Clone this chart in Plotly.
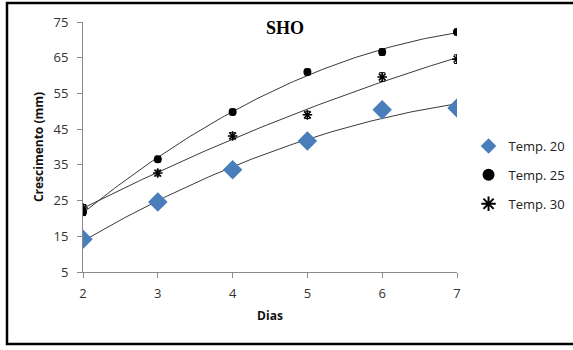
import numpy as np
import plotly.graph_objects as go

# Growth (mm) per day at three temperatures
dias = [2, 3, 4, 5, 6, 7]
temp20 = [14.2, 24.6, 33.6, 41.7, 50.4, 50.9]
temp25 = [21.8, 36.6, 49.8, 61.0, 66.6, 72.2]
temp30 = [22.9, 32.7, 43.1, 49.0, 59.6, 64.6]
err20 = [0.6, 0.6, 0.6, 0.6, 0.8, 0.6]
err25 = [1.0, 0.8, 0.8, 0.8, 0.9, 0.8]
err30 = [1.0, 0.8, 0.9, 1.0, 1.2, 1.2]

W, H = 573, 350
ML, MR, MT, MB = 83, 0, 22, 78
plot_w = W - ML - MR
plot_h = H - MT - MB
x_dom = 374 / plot_w  # axes occupy the left part; legend sits to the right


def px_x(p):
    return (p - ML) / plot_w


def px_y(p):
    return (H - MB - p) / plot_h


fig = go.Figure()

# Second-order polynomial trendlines
xs = np.linspace(2, 7, 120)
for ys in (temp20, temp25, temp30):
    coef = np.polyfit(dias, ys, 2)
    fig.add_trace(go.Scatter(x=xs, y=np.polyval(coef, xs), mode="lines",
                             line=dict(color="#3a3a3a", width=1),
                             showlegend=False, hoverinfo="skip"))

fig.add_trace(go.Scatter(
    x=dias, y=temp20, mode="markers", name="Temp. 20", legendgroup="a",
    marker=dict(symbol="diamond", size=15, color="#4a7ebb"),
    error_y=dict(type="data", array=err20, color="#000000", thickness=1, width=3)))
fig.add_trace(go.Scatter(
    x=dias, y=temp25, mode="markers", name="Temp. 25", legendgroup="b",
    marker=dict(symbol="circle", size=8, color="#000000"),
    error_y=dict(type="data", array=err25, color="#000000", thickness=1, width=3)))
fig.add_trace(go.Scatter(
    x=dias, y=temp30, mode="markers", name="Temp. 30", legendgroup="c",
    marker=dict(symbol="asterisk-open", size=8, color="#000000",
                line=dict(color="#000000", width=1.5)),
    error_y=dict(type="data", array=err30, color="#000000", thickness=1, width=3)))

axis_font = dict(family="Open Sans, DejaVu Sans, sans-serif", size=13, color="#333333")
title_font = dict(family="Open Sans, DejaVu Sans, sans-serif", size=12, color="#111111")

fig.update_layout(
    width=W, height=H,
    margin=dict(l=ML, r=MR, t=MT, b=MB, autoexpand=False),
    paper_bgcolor="white", plot_bgcolor="white",
    xaxis=dict(domain=[0, x_dom], range=[2, 7], tickvals=dias, automargin=False,
               showgrid=False, zeroline=False,
               showline=True, linecolor="#8a8a8a", linewidth=1,
               ticks="outside", ticklen=5, tickcolor="#8a8a8a",
               tickfont=axis_font, ticklabelstandoff=4,
               title=dict(text="<b>Dias</b>", standoff=11, font=title_font)),
    yaxis=dict(range=[5, 75], tickvals=[5, 15, 25, 35, 45, 55, 65, 75], automargin=False,
               showgrid=False, zeroline=False,
               showline=True, linecolor="#8a8a8a", linewidth=1,
               ticks="outside", ticklen=5, tickcolor="#8a8a8a",
               tickfont=axis_font, ticklabelstandoff=6,
               title=dict(text="<b>Crescimento (mm)</b>", standoff=7, font=title_font)),
    legend=dict(x=0.995, y=px_y(175), xanchor="right", yanchor="middle",
                font=dict(family="Open Sans, DejaVu Sans, sans-serif",
                          size=13, color="#222222"),
                itemsizing="constant", tracegroupgap=9, itemwidth=30,
                bgcolor="rgba(0,0,0,0)"),
    annotations=[dict(text="<b>SHO</b>", x=px_x(285), y=px_y(28),
                      xref="paper", yref="paper",
                      xanchor="center", yanchor="middle", showarrow=False,
                      font=dict(family="Liberation Serif, serif", size=18, color="#000000"))],
    shapes=[dict(type="rect", xref="paper", yref="paper",
                 x0=px_x(7), x1=px_x(585), y0=px_y(344), y1=px_y(3),
                 line=dict(color="#000000", width=2.5))],
)

fig.write_html("out.html")
